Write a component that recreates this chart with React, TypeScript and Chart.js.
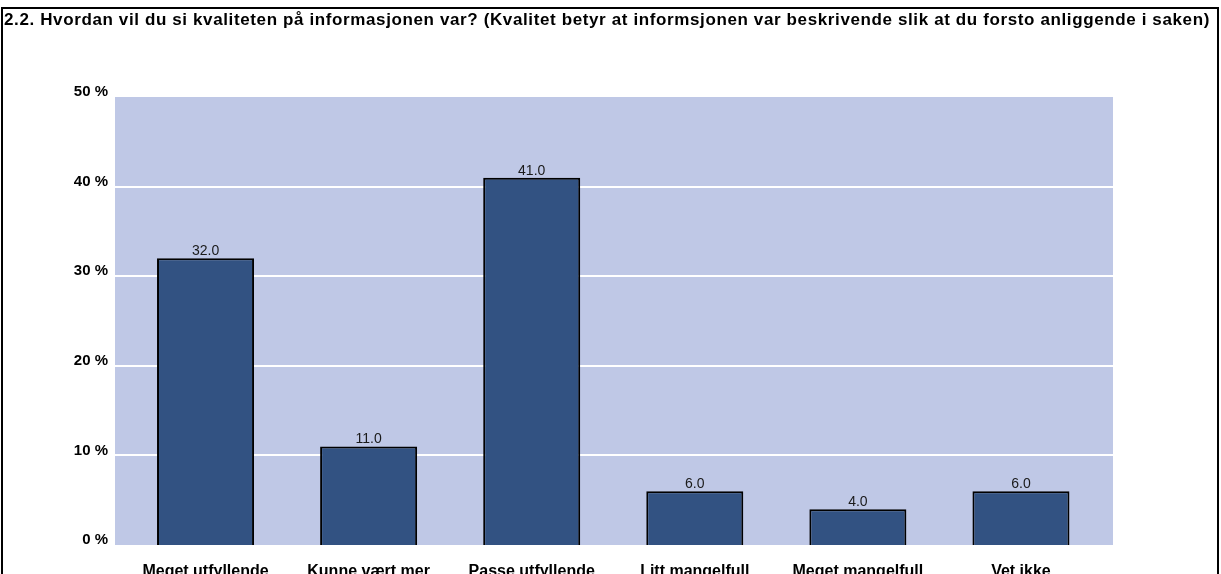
import React, { useEffect, useRef } from "react";
import { Chart, registerables } from "chart.js";

Chart.register(...registerables);

const TITLE =
  "2.2. Hvordan vil du si kvaliteten på informasjonen var? (Kvalitet betyr at informsjonen var beskrivende slik at du forsto anliggende i saken)";
const categories: string[][] = [
  ["Meget utfyllende"],
  ["Kunne vært mer", "utfyllende"],
  ["Passe utfyllende"],
  ["Litt mangelfull"],
  ["Meget mangelfull"],
  ["Vet ikke"],
];
const values = [32.0, 11.0, 41.0, 6.0, 4.0, 6.0];
const yTicks = [0, 10, 20, 30, 40, 50];
const yMax = 50;

const W = 1221;
const H = 620;

const framePlugin = {
  id: "frame",
  beforeDraw(chart: any) {
    const { ctx, chartArea } = chart;
    const y = chart.scales.y;
    ctx.save();
    ctx.fillStyle = "#ffffff";
    ctx.fillRect(0, 0, chart.width, chart.height);
    const left = chartArea.left - 9;
    const right = chartArea.right + 10.5;
    const top = y.getPixelForValue(yMax);
    const bottom = y.getPixelForValue(0);
    ctx.fillStyle = "#BFC8E6";
    ctx.fillRect(left, top, right - left, bottom - top);
    ctx.strokeStyle = "#ffffff";
    ctx.lineWidth = 2;
    for (const t of yTicks) {
      if (t > 0 && t < yMax) {
        const py = Math.round(y.getPixelForValue(t));
        ctx.beginPath();
        ctx.moveTo(left, py);
        ctx.lineTo(right, py);
        ctx.stroke();
      }
    }
    ctx.fillStyle = "#000000";
    ctx.font = 'bold 17px "Liberation Sans", Arial, sans-serif';
    (ctx as any).letterSpacing = "0.62px";
    ctx.textAlign = "left";
    ctx.textBaseline = "alphabetic";
    ctx.fillText(TITLE, 4, 25);
    (ctx as any).letterSpacing = "0px";
    ctx.strokeStyle = "#000000";
    ctx.lineWidth = 2;
    ctx.strokeRect(2, 8, 1216, chart.height + 20);
    ctx.restore();
  },
  afterDatasetsDraw(chart: any) {
    const { ctx } = chart;
    const meta = chart.getDatasetMeta(0);
    ctx.save();
    ctx.fillStyle = "#1a1a1a";
    ctx.font = '14px "Liberation Sans", Arial, sans-serif';
    ctx.textAlign = "center";
    ctx.textBaseline = "alphabetic";
    meta.data.forEach((bar: any, i: number) => {
      ctx.fillText(values[i].toFixed(1), bar.x, bar.y - 3);
    });
    ctx.restore();
  },
};

export default function App() {
  const ref = useRef<HTMLCanvasElement | null>(null);
  useEffect(() => {
    document.body.style.margin = "0";
    document.body.style.overflow = "hidden";
    document.documentElement.style.overflow = "hidden";
    const canvas = ref.current!;
    const chart = new Chart(canvas, {
      type: "bar",
      data: {
        labels: categories,
        datasets: [
          {
            data: values,
            backgroundColor: "#325282",
            borderColor: "#000000",
            borderWidth: 2,
            barPercentage: 0.595,
            categoryPercentage: 1,
          },
        ],
      },
      options: {
        responsive: false,
        animation: false,
        devicePixelRatio: 1,
        layout: { padding: { top: 97, right: 118.5, left: 0, bottom: 0 } },
        plugins: {
          legend: { display: false },
          tooltip: { enabled: false },
          title: { display: false },
        },
        scales: {
          x: {
            grid: { display: false, drawTicks: false },
            border: { display: false },
            ticks: {
              color: "#000000",
              font: { family: '"Liberation Sans", Arial, sans-serif', size: 16, weight: "bold" },
              padding: 17,
              maxRotation: 0,
              autoSkip: false,
            },
            afterFit(scale: any) {
              scale.height = H - 545;
            },
          },
          y: {
            min: 0,
            max: yMax,
            grid: { display: false, drawTicks: false },
            border: { display: false },
            ticks: {
              stepSize: 10,
              color: "#000000",
              font: { family: '"Liberation Sans", Arial, sans-serif', size: 15, weight: "bold" },
              padding: 16,
              labelOffset: -5,
              callback: (v: any) => `${v} %`,
            },
            afterFit(scale: any) {
              scale.width = 124;
            },
          },
        },
      },
      plugins: [framePlugin],
    });
    return () => chart.destroy();
  }, []);
  return (
    <div style={{ width: W, height: H }}>
      <canvas ref={ref} width={W} height={H} style={{ display: "block" }} />
    </div>
  );
}
